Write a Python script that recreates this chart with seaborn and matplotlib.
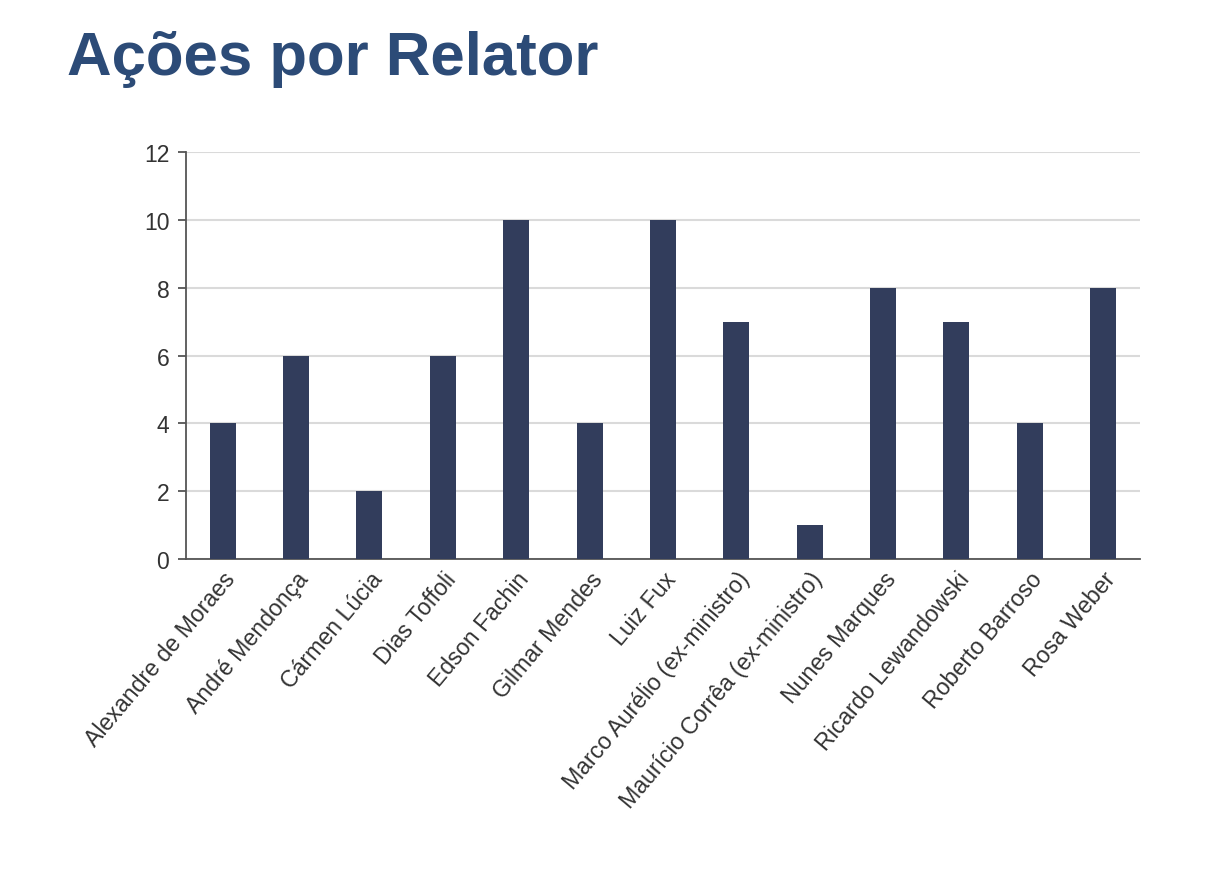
import matplotlib
matplotlib.use("Agg")
import matplotlib.pyplot as plt
import seaborn as sns
import pandas as pd
import numpy as np

relatores = ["Alexandre de Moraes", "André Mendonça", "Cármen Lúcia", "Dias Toffoli",
             "Edson Fachin", "Gilmar Mendes", "Luiz Fux", "Marco Aurélio (ex-ministro)",
             "Maurício Corrêa (ex-ministro)", "Nunes Marques", "Ricardo Lewandowski",
             "Roberto Barroso", "Rosa Weber"]
acoes = [4, 6, 2, 6, 10, 4, 10, 7, 1, 8, 7, 4, 8]
yticks = [0, 2, 4, 6, 8, 10, 12]
title = "Ações por Relator"

sns.set_theme(style="white")
plt.rcParams['font.family'] = ['Liberation Sans', 'DejaVu Sans']

df = pd.DataFrame({"relator": relatores, "acoes": acoes})

fig = plt.figure(figsize=(12.19, 8.95), dpi=100)
ax = fig.add_axes([0.1526, 0.3743, 0.935 - 0.1526, 0.829 - 0.3743])

sns.barplot(data=df, x="relator", y="acoes", color="#323d5c", saturation=1,
            width=0.355, linewidth=0, ax=ax, zorder=3)

ax.set_xlim(-0.5, len(relatores) - 0.5)
ax.set_ylim(0, 12)
ax.set_yticks(yticks)
ax.set_yticklabels([str(v) for v in yticks], fontsize=16.5, color="#333333")
ax.set_xlabel("")
ax.set_ylabel("")

# grid
ax.yaxis.grid(True, color="#dadada", linewidth=1.5, zorder=0)
ax.set_axisbelow(True)

for s in ["top", "right"]:
    ax.spines[s].set_visible(False)
for s in ["left", "bottom"]:
    ax.spines[s].set_visible(True)
    ax.spines[s].set_color("#555555")
    ax.spines[s].set_linewidth(1.3)

# x tick labels at centers, tick marks at boundaries
ax.set_xticks(np.arange(len(relatores)))
ax.set_xticklabels(relatores, rotation=50, ha="right", va="top", rotation_mode="anchor",
                   fontsize=16.7, color="#333333")
ax.tick_params(axis="x", which="major", length=0, pad=6)
ax.set_xticks(np.arange(len(relatores) + 1) - 0.5, minor=True)
ax.tick_params(axis="x", which="minor", length=7, width=1.3, color="#555555", direction="out")
ax.tick_params(axis="y", length=6, width=1.3, color="#555555", direction="out", left=True, pad=6)

fig.text(0.055, 0.916, title, fontsize=44.5, fontweight="bold", color="#2c4b77",
         ha="left", va="baseline")

fig.savefig("out.png", dpi=100, facecolor="white")
